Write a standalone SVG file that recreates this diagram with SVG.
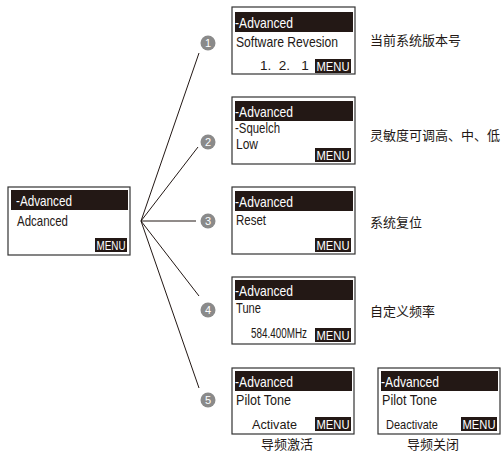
<svg xmlns="http://www.w3.org/2000/svg" width="501" height="453" viewBox="0 0 501 453">
<style>
.box{fill:#fff;stroke:#333;stroke-width:1.2}
.hdr{fill:#231815}
.t{font-family:"Liberation Sans",Arial,sans-serif;font-size:15px;fill:#231815}
.s{font-size:13.5px}
.w{fill:#fff}
.m{font-family:"Liberation Sans",Arial,sans-serif;font-size:13px;fill:#fff}
.cn{font-family:"Noto Sans CJK SC",sans-serif;font-size:13px;fill:#231815}
.num{fill:#8a8a8a}
.nt{font-family:"Liberation Sans",Arial,sans-serif;font-size:11px;fill:#fff;text-anchor:middle}
.ln{stroke:#231815;stroke-width:1;fill:none}
</style>
<g id="connectors">
<line class="ln" x1="141" y1="221" x2="199" y2="53"/>
<line class="ln" x1="141" y1="221" x2="198" y2="147"/>
<line class="ln" x1="141" y1="221" x2="196" y2="221"/>
<line class="ln" x1="141" y1="221" x2="199" y2="296"/>
<line class="ln" x1="141" y1="221" x2="199" y2="388"/>
</g>
<g id="main">
<rect class="box" x="8" y="187" width="122" height="68"/>
<rect class="hdr" x="11" y="190" width="117" height="20"/>
<text class="t w" x="16" y="206" textLength="56" lengthAdjust="spacingAndGlyphs">-Advanced</text>
<text class="t" x="17" y="226" textLength="51" lengthAdjust="spacingAndGlyphs">Adcanced</text>
<rect class="hdr" x="95" y="238" width="32" height="14"/>
<text class="m" x="96.5" y="250" textLength="29" lengthAdjust="spacingAndGlyphs">MENU</text>
</g>
<g id="n1">
<circle class="num" cx="208" cy="43" r="7.5"/><text class="nt" x="208" y="47">1</text>
<rect class="box" x="232" y="7" width="123" height="67"/>
<rect class="hdr" x="235" y="12" width="118" height="20"/>
<text class="t w" x="235" y="28" textLength="58" lengthAdjust="spacingAndGlyphs">-Advanced</text>
<text class="t" x="236" y="47" textLength="102" lengthAdjust="spacingAndGlyphs">Software Revesion</text>
<text class="t s" x="260" y="70" xml:space="preserve">1.  2.   1</text>
<rect class="hdr" x="315" y="59" width="36" height="14"/>
<text class="m" x="316.5" y="71" textLength="33" lengthAdjust="spacingAndGlyphs">MENU</text>
<text class="cn" x="370" y="45">当前系统版本号</text>
</g>
<g id="n2">
<circle class="num" cx="208" cy="142" r="7.5"/><text class="nt" x="208" y="146">2</text>
<rect class="box" x="232" y="97" width="123" height="67"/>
<rect class="hdr" x="235" y="101" width="118" height="20"/>
<text class="t w" x="235" y="117" textLength="58" lengthAdjust="spacingAndGlyphs">-Advanced</text>
<text class="t" x="235" y="133" font-size="12.5" textLength="45" lengthAdjust="spacingAndGlyphs">-Squelch</text>
<text class="t" x="236" y="148.5" font-size="12.5" textLength="22" lengthAdjust="spacingAndGlyphs">Low</text>
<rect class="hdr" x="315" y="148" width="36" height="14"/>
<text class="m" x="316.5" y="160" textLength="33" lengthAdjust="spacingAndGlyphs">MENU</text>
<text class="cn" x="370" y="140">灵敏度可调高、中、低</text>
</g>
<g id="n3">
<circle class="num" cx="208" cy="221" r="7.5"/><text class="nt" x="208" y="225">3</text>
<rect class="box" x="232" y="187" width="123" height="67"/>
<rect class="hdr" x="235" y="191" width="118" height="20"/>
<text class="t w" x="235" y="207" textLength="58" lengthAdjust="spacingAndGlyphs">-Advanced</text>
<text class="t" x="236" y="225" textLength="30" lengthAdjust="spacingAndGlyphs">Reset</text>
<rect class="hdr" x="315" y="238" width="36" height="14"/>
<text class="m" x="316.5" y="250" textLength="33" lengthAdjust="spacingAndGlyphs">MENU</text>
<text class="cn" x="370" y="227">系统复位</text>
</g>
<g id="n4">
<circle class="num" cx="208" cy="310" r="7.5"/><text class="nt" x="208" y="314">4</text>
<rect class="box" x="232" y="277" width="123" height="67"/>
<rect class="hdr" x="235" y="280" width="118" height="20"/>
<text class="t w" x="235" y="296" textLength="58" lengthAdjust="spacingAndGlyphs">-Advanced</text>
<text class="t" x="236" y="313" textLength="25" lengthAdjust="spacingAndGlyphs">Tune</text>
<text class="t" x="251" y="338" font-size="12.5" textLength="56" lengthAdjust="spacingAndGlyphs">584.400MHz</text>
<rect class="hdr" x="315" y="328" width="36" height="14"/>
<text class="m" x="316.5" y="340" textLength="33" lengthAdjust="spacingAndGlyphs">MENU</text>
<text class="cn" x="370" y="316">自定义频率</text>
</g>
<g id="n5">
<circle class="num" cx="208" cy="400" r="7.5"/><text class="nt" x="208" y="404">5</text>
<rect class="box" x="232" y="368" width="122" height="66"/>
<rect class="hdr" x="235" y="371" width="117" height="20"/>
<text class="t w" x="235" y="387" textLength="58" lengthAdjust="spacingAndGlyphs">-Advanced</text>
<text class="t" x="236" y="405" textLength="55" lengthAdjust="spacingAndGlyphs">Pilot Tone</text>
<text class="t s" x="252" y="429" textLength="45" lengthAdjust="spacingAndGlyphs">Activate</text>
<rect class="hdr" x="315" y="417" width="36" height="14"/>
<text class="m" x="316.5" y="429" textLength="33" lengthAdjust="spacingAndGlyphs">MENU</text>
<text class="cn" x="287" y="449" text-anchor="middle" font-size="12.5">导频激活</text>
</g>
<g id="n6">
<rect class="box" x="378" y="368" width="122" height="66"/>
<rect class="hdr" x="381" y="371" width="117" height="20"/>
<text class="t w" x="381" y="387" textLength="58" lengthAdjust="spacingAndGlyphs">-Advanced</text>
<text class="t" x="382" y="405" textLength="55" lengthAdjust="spacingAndGlyphs">Pilot Tone</text>
<text class="t s" x="386" y="429" textLength="52" lengthAdjust="spacingAndGlyphs">Deactivate</text>
<rect class="hdr" x="461" y="417" width="36" height="14"/>
<text class="m" x="462.5" y="429" textLength="33" lengthAdjust="spacingAndGlyphs">MENU</text>
<text class="cn" x="433" y="449" text-anchor="middle" font-size="12.5">导频关闭</text>
</g>
</svg>
